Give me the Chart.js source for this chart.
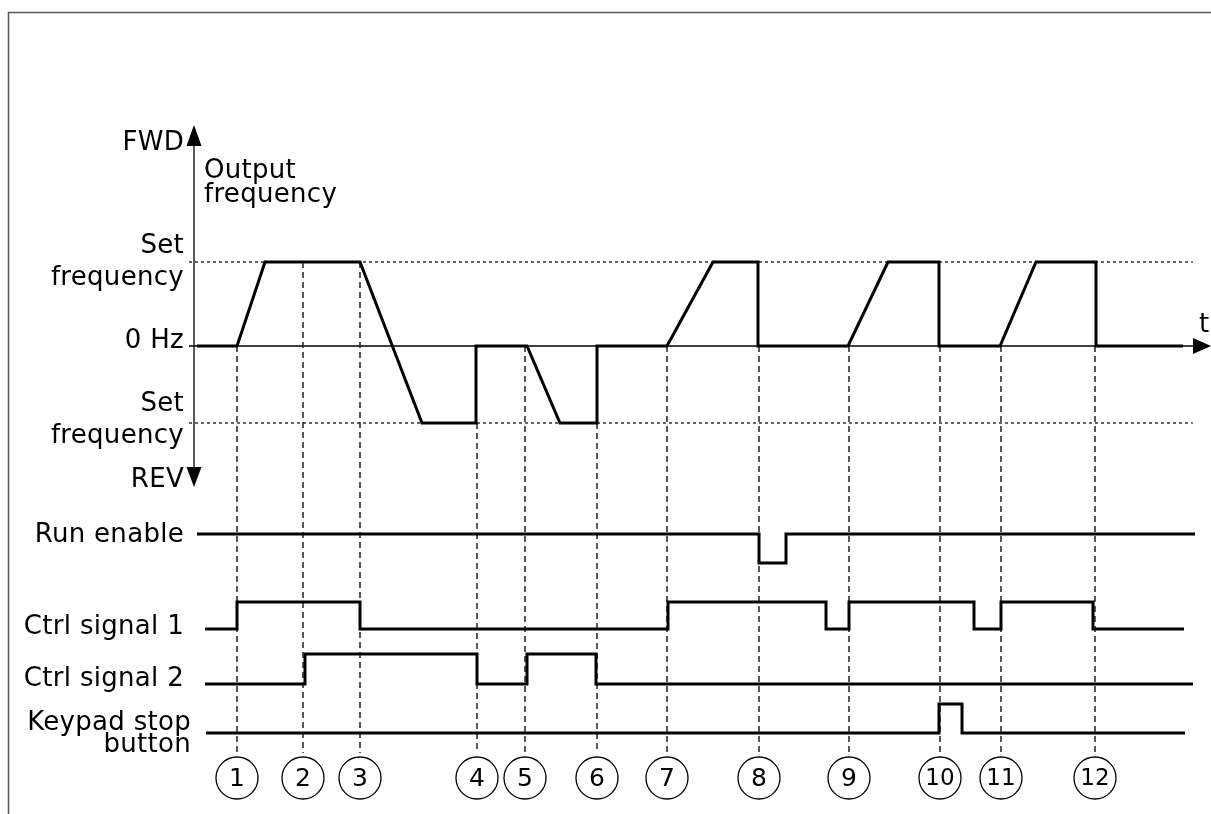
<!DOCTYPE html>
<html>
<head>
<meta charset="utf-8">
<script src="https://cdn.jsdelivr.net/npm/chart.js@4"></script>
<style>
  html, body { margin: 0; padding: 0; background: #fff; }
  canvas { display: block; }
</style>
</head>
<body>
<canvas id="chart" width="1211" height="814"></canvas>
<script>
// times are in arbitrary time units (no ticks on the t axis)
const markerTimes = [4.0, 10.6, 16.3, 28.0, 32.8, 40.0, 47.0, 56.2, 65.2, 74.3, 80.4, 89.8];
const markerLabels = ["1", "2", "3", "4", "5", "6", "7", "8", "9", "10", "11", "12"];
// frequency level where each dashed marker line begins
const markerFrom = [0, 1, 1, -1, 0, -1, 0, 0, 0, 0, 0, 0];

// output frequency: +1 = set frequency FWD, -1 = set frequency REV
const freqTime = [0, 4.0, 6.8, 16.3, 22.5, 27.9, 27.9, 33.0, 36.3, 40.0, 40.0, 47.0,
  51.6, 56.1, 56.1, 65.1, 69.1, 74.2, 74.2, 80.3, 83.9, 89.9, 89.9, 98.6];
const freqValue = [0, 0, 1, 1, -1, -1, 0, 0, -1, -1, 0, 0, 1, 1, 0, 0, 1, 1, 0, 0, 1, 1, 0, 0];

// digital signals: time of change, level after it
const runEnableTime = [0, 56.2, 58.9, 99.8];
const runEnableLevel = [1, 0, 1, 1];
const ctrl1Time = [0.8, 4.0, 16.3, 47.1, 62.9, 65.2, 77.7, 80.4, 89.6, 98.7];
const ctrl1Level = [0, 1, 0, 1, 0, 1, 0, 1, 0, 0];
const ctrl2Time = [0.8, 10.8, 28.0, 33.0, 39.9, 99.6];
const ctrl2Level = [0, 1, 0, 1, 0, 0];
const keypadTime = [0.9, 74.2, 76.5, 98.8];
const keypadLevel = [0, 1, 0, 0];

// layout (vertical positions on the page)
const freqLane = { zero: 346, up: 84, down: 77 };
const lanes = {
  run: { low: 563, high: 534 },
  ctrl1: { low: 629, high: 602 },
  ctrl2: { low: 684, high: 654 },
  keypad: { low: 733, high: 704 }
};
const markerBottom = 753;
const circleY = 778;
const FONT = '"DejaVu Sans", Verdana, sans-serif';

const fy = v => v >= 0 ? freqLane.zero - v * freqLane.up : freqLane.zero - v * freqLane.down;
const ly = (lane, v) => v ? lane.high : lane.low;

const digital = (times, levels, lane) => ({
  data: times.map((t, i) => ({ x: t, y: ly(lane, levels[i]) })),
  borderColor: '#000', borderWidth: 3, pointRadius: 0, stepped: true, fill: false
});

const datasets = [];
datasets.push({
  data: freqTime.map((t, i) => ({ x: t, y: fy(freqValue[i]) })),
  borderColor: '#000', borderWidth: 3, pointRadius: 0, tension: 0, fill: false
});
datasets.push(digital(runEnableTime, runEnableLevel, lanes.run));
datasets.push(digital(ctrl1Time, ctrl1Level, lanes.ctrl1));
datasets.push(digital(ctrl2Time, ctrl2Level, lanes.ctrl2));
datasets.push(digital(keypadTime, keypadLevel, lanes.keypad));

// circled numbers
datasets.push({
  type: 'scatter',
  data: markerTimes.map(t => ({ x: t, y: circleY })),
  pointStyle: 'circle', pointRadius: 21, borderWidth: 1.3,
  borderColor: '#000', backgroundColor: '#fff', showLine: false
});

// dashed event markers
markerTimes.forEach((t, i) => {
  datasets.push({
    data: [{ x: t, y: fy(markerFrom[i]) }, { x: t, y: markerBottom }],
    borderColor: '#222', borderWidth: 1.5, borderDash: [6, 4], pointRadius: 0
  });
});

// dotted set-frequency lines
[1, -1].forEach(v => {
  datasets.push({
    data: [{ x: -0.8, y: fy(v) }, { x: 99.6, y: fy(v) }],
    borderColor: '#000', borderWidth: 1.2, borderDash: [3, 3], pointRadius: 0
  });
});

const decorations = {
  id: 'decorations',
  beforeDatasetsDraw(chart) {
    const { ctx, scales: { x, y } } = chart;
    ctx.save();
    // frame
    ctx.strokeStyle = '#555';
    ctx.lineWidth = 1.5;
    ctx.beginPath();
    ctx.moveTo(8.5, 830);
    ctx.lineTo(8.5, 12.5);
    ctx.lineTo(1220, 12.5);
    ctx.stroke();

    // 0 Hz time axis
    const y0 = y.getPixelForValue(fy(0));
    ctx.strokeStyle = '#000';
    ctx.lineWidth = 1.3;
    ctx.beginPath();
    ctx.moveTo(x.getPixelForValue(-0.8), y0);
    ctx.lineTo(x.getPixelForValue(99.7), y0);
    ctx.stroke();
    ctx.fillStyle = '#000';
    ctx.beginPath();
    ctx.moveTo(1211, y0);
    ctx.lineTo(1193, y0 - 8);
    ctx.lineTo(1193, y0 + 8);
    ctx.closePath();
    ctx.fill();

    // FWD / REV axis
    const ax = x.getPixelForValue(-0.3);
    ctx.beginPath();
    ctx.moveTo(ax, 140);
    ctx.lineTo(ax, 472);
    ctx.stroke();
    ctx.beginPath();
    ctx.moveTo(ax, 125);
    ctx.lineTo(ax - 7.5, 146);
    ctx.lineTo(ax + 7.5, 146);
    ctx.closePath();
    ctx.fill();
    ctx.beginPath();
    ctx.moveTo(ax, 487);
    ctx.lineTo(ax - 7.5, 467);
    ctx.lineTo(ax + 7.5, 467);
    ctx.closePath();
    ctx.fill();
    ctx.restore();
  },
  afterDatasetsDraw(chart) {
    const { ctx, scales: { x, y } } = chart;
    ctx.save();
    ctx.fillStyle = '#000';
    ctx.font = '26px ' + FONT;
    ctx.letterSpacing = '0.3px';
    ctx.textBaseline = 'alphabetic';
    const right = (s, px, py) => { ctx.textAlign = 'right'; ctx.fillText(s, px, py); };
    const left = (s, px, py) => { ctx.textAlign = 'left'; ctx.fillText(s, px, py); };
    right('FWD', 184, 150);
    left('Output', 204, 178);
    left('frequency', 204, 202);
    right('Set', 184, 253);
    right('frequency', 184, 285);
    right('0 Hz', 184, 348);
    right('Set', 184, 411);
    right('frequency', 184, 443);
    right('REV', 184, 487);
    right('Run enable', 184, 542);
    right('Ctrl signal 1', 184, 634);
    right('Ctrl signal 2', 184, 686);
    right('Keypad stop', 191, 730);
    right('button', 191, 752);
    left('t', 1199, 332);

    // numbers in circles
    ctx.letterSpacing = '0px';
    ctx.textAlign = 'center';
    ctx.textBaseline = 'middle';
    markerTimes.forEach((t, i) => {
      const lbl = markerLabels[i];
      ctx.font = (lbl.length > 1 ? '23px ' : '25px ') + FONT;
      ctx.fillText(lbl, x.getPixelForValue(t), y.getPixelForValue(circleY) + 1);
    });
    ctx.restore();
  }
};

new Chart(document.getElementById('chart'), {
  type: 'line',
  data: { datasets },
  options: {
    responsive: false,
    devicePixelRatio: 1,
    animation: false,
    layout: { padding: 0, autoPadding: false },
    plugins: { legend: { display: false }, tooltip: { enabled: false } },
    scales: {
      x: { type: 'linear', min: -19.7, max: 101.4, display: false },
      y: { type: 'linear', min: 0, max: 814, reverse: true, display: false }
    },
    elements: { line: { borderJoinStyle: 'miter' } }
  },
  plugins: [decorations]
});
</script>
</body>
</html>
